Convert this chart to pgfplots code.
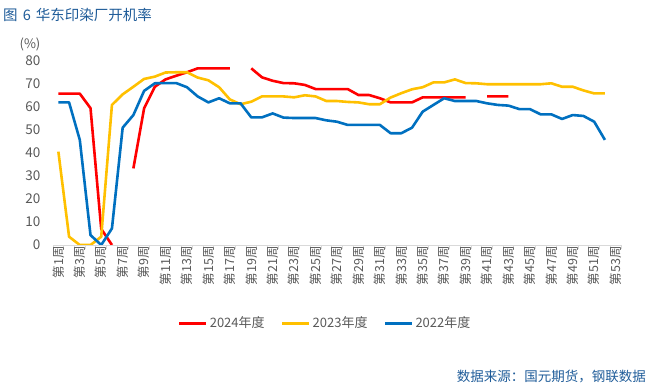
\documentclass[border=0pt]{standalone}
\usepackage{fontspec}
\setmainfont{Noto Sans CJK SC}
\usepackage{pgfplots}
\pgfplotsset{compat=1.18}
\definecolor{cred}{HTML}{FF0000}
\definecolor{cyel}{HTML}{FFC000}
\definecolor{cblue}{HTML}{0070C0}
\definecolor{ttl}{HTML}{1F5C99}
\definecolor{txt}{HTML}{595959}
\definecolor{axl}{HTML}{D9D9D9}
\begin{document}
\begin{tikzpicture}
\path[use as bounding box] (0,0) rectangle (652pt,385pt);
\node[anchor=west,text=ttl,font=\fontsize{14.5pt}{15pt}\selectfont,inner sep=0pt] at (3pt,370pt) {图\hspace{0.35em}6\hspace{0.35em}华东印染厂开机率};
\node[text=txt,font=\fontsize{13pt}{14pt}\selectfont,inner sep=0pt] at (30pt,341pt) {(\%)};
\node[anchor=east,text=ttl,font=\fontsize{13.5pt}{14pt}\selectfont,inner sep=0pt] at (646pt,8pt) {数据来源：国元期货，钢联数据};
\begin{axis}[
  at={(53pt,140pt)}, anchor=south west,
  scale only axis, width=568pt, height=184pt,
  xmin=0.5, xmax=53.5, ymin=0, ymax=80,
  axis x line*=bottom, axis y line*=left,
  y axis line style={draw=none},
  x axis line style={draw=axl, line width=0.8pt},
  ytick={0,10,...,80},
  ytick style={draw=none},
  yticklabel style={text=txt, font=\fontsize{13.5pt}{14pt}\selectfont, xshift=-9pt},
  /pgf/number format/assume math mode=true,
  xtick={1,3,...,53},
  xticklabels={第1周,第3周,第5周,第7周,第9周,第11周,第13周,第15周,第17周,第19周,第21周,第23周,第25周,第27周,第29周,第31周,第33周,第35周,第37周,第39周,第41周,第43周,第45周,第47周,第49周,第51周,第53周},
  xticklabel style={rotate=90, anchor=east, text=txt, font=\fontsize{12.5pt}{13pt}\selectfont, inner sep=1pt},
  xtick align=outside,
  major tick length=0pt,
  minor xtick={0.5,1.5,...,53.5},
  minor tick length=4pt,
  minor tick style={draw=axl, line width=0.8pt},
  unbounded coords=jump,
  legend columns=3,
  legend style={at={(0.479,-0.424)}, anchor=center, draw=none, fill=none,
    font=\fontsize{13pt}{14pt}\selectfont, text=txt,
    /tikz/every even column/.append style={column sep=14pt}},
  legend image code/.code={\draw[#1, line width=3pt] (0pt,0pt) -- (27pt,0pt);},
  every axis plot/.append style={line width=2.6pt, line join=round},
]
\addplot[cred] coordinates {
(1,65.8)(2,65.8)(3,65.8)(4,59.5)(5,7)(6,0)(7,nan)(8,33.3)(9,59.4)(10,68.8)
(11,72)(12,73.6)(13,75.1)(14,76.8)(15,76.8)(16,76.8)(17,76.8)(18,nan)(19,76.8)(20,72.9)
(21,71.4)(22,70.4)(23,70.3)(24,69.6)(25,67.8)(26,67.8)(27,67.8)(28,67.8)(29,65.2)(30,65.2)
(31,63.8)(32,62)(33,62)(34,62)(35,64.2)(36,64.2)(37,64.2)(38,64.2)(39,64.2)(40,nan)
(41,64.6)(42,64.6)(43,64.6)};
\addlegendentry{2024年度}
\addplot[cyel] coordinates {
(1,40.6)(2,3.6)(3,0)(4,0)(5,3.6)(6,60.9)(7,65.5)(8,68.8)(9,72.2)(10,73.2)
(11,75)(12,75.1)(13,75.1)(14,72.8)(15,71.6)(16,68.6)(17,63.3)(18,61.2)(19,62.3)(20,64.6)
(21,64.6)(22,64.6)(23,64.2)(24,65.1)(25,64.6)(26,62.6)(27,62.6)(28,62.2)(29,62)(30,61.2)
(31,61.2)(32,64.1)(33,66)(34,67.7)(35,68.6)(36,70.7)(37,70.7)(38,72)(39,70.4)(40,70.3)
(41,69.9)(42,69.9)(43,69.9)(44,69.9)(45,69.9)(46,69.9)(47,70.3)(48,68.8)(49,68.8)(50,67.2)
(51,65.9)(52,65.9)};
\addlegendentry{2023年度}
\addplot[cblue] coordinates {
(1,62)(2,62)(3,45.7)(4,4.3)(5,0)(6,7.2)(7,51)(8,56.5)(9,67)(10,70.3)
(11,70.4)(12,70.4)(13,68.6)(14,64.6)(15,62)(16,63.8)(17,61.6)(18,61.6)(19,55.5)(20,55.5)
(21,57.2)(22,55.4)(23,55.2)(24,55.2)(25,55.2)(26,54.2)(27,53.6)(28,52.2)(29,52.2)(30,52.2)
(31,52.2)(32,48.6)(33,48.6)(34,51)(35,58)(36,60.9)(37,63.8)(38,62.6)(39,62.6)(40,62.6)
(41,61.6)(42,60.9)(43,60.6)(44,59.1)(45,59.1)(46,56.8)(47,56.8)(48,54.8)(49,56.5)(50,56.1)
(51,53.6)(52,45.7)};
\addlegendentry{2022年度}
\end{axis}
\end{tikzpicture}
\end{document}
